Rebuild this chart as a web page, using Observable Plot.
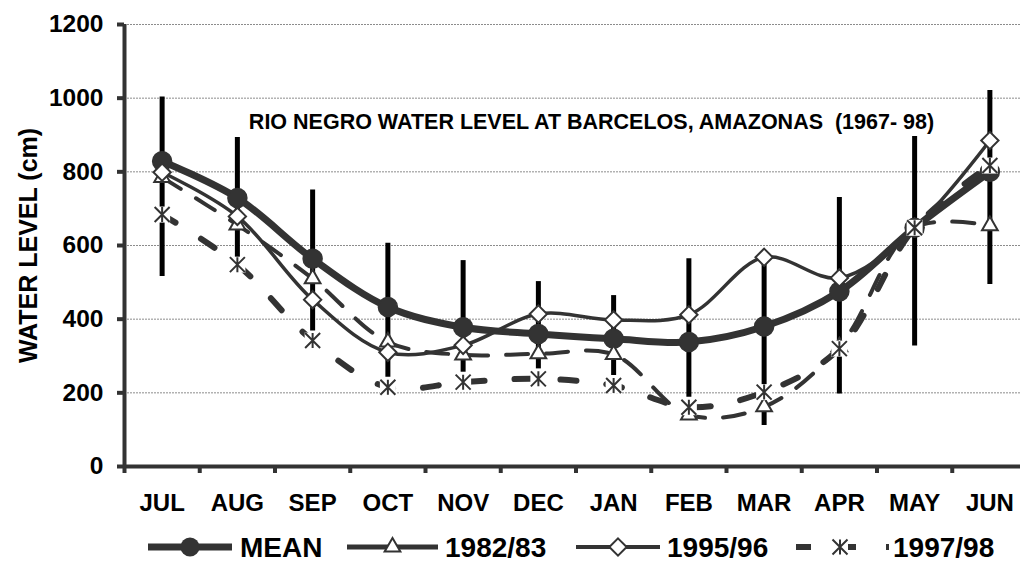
<!DOCTYPE html>
<html><head><meta charset="utf-8">
<script src="https://cdn.jsdelivr.net/npm/d3@7"></script>
<script src="https://cdn.jsdelivr.net/npm/@observablehq/plot@0.6"></script>
<style>
body{margin:0;background:#fff;font-family:"Liberation Sans",Arial,sans-serif;}
#legend{display:block;}
</style></head><body><div id="chart"></div><div id="legend"></div>
<script>
const months = ["JUL","AUG","SEP","OCT","NOV","DEC","JAN","FEB","MAR","APR","MAY","JUN"];
const meanLevel = [829, 729, 564, 433, 378, 360, 347, 338, 380, 475, 648, 800];
const errHigh   = [1003, 893, 751, 606, 559, 502, 464, 564, 560, 730, 896, 1021];
const errLow    = [516, 545, 368, 242, 256, 265, 247, 188, 111, 197, 327, 494];
const level8283 = [785, 656, 510, 338, 303, 306, 304, 140, 162, 325, 648, 654];
const level9596 = [799, 679, 453, 310, 329, 414, 398, 412, 568, 512, 648, 885];
const level9798 = [684, 548, 342, 215, 229, 238, 220, 161, 202, 320, 648, 817];
const yTicks = [0, 200, 400, 600, 800, 1000, 1200];
const seriesNames = ["MEAN", "1982/83", "1995/96", "1997/98"];
const title = "RIO NEGRO WATER LEVEL AT BARCELOS, AMAZONAS \u00a0(1967- 98)";
const yLabel = "WATER LEVEL (cm)";

const rows = months.map((m, i) => ({
  month: m, x: i + 0.5, mean: meanLevel[i], hi: errHigh[i], lo: errLow[i],
  a: level8283[i], b: level9596[i], c: level9798[i]
}));

const ink = "#333";
const font = '"Liberation Sans", Arial, sans-serif';

// Excel-like star marker: an X plus a vertical stroke inside a square box
const starSymbol = {
  draw(ctx, size) {
    const r = Math.sqrt(size / Math.PI);
    ctx.moveTo(0, -r); ctx.lineTo(0, r);
    ctx.moveTo(-r, -r); ctx.lineTo(r, r);
    ctx.moveTo(r, -r); ctx.lineTo(-r, r);
  }
};
const boxSymbol = {
  draw(ctx, size) {
    const r = Math.sqrt(size / Math.PI);
    ctx.rect(-r, -r, 2 * r, 2 * r);
  }
};

const chart = Plot.plot({
  width: 1020, height: 525,
  marginLeft: 124, marginRight: 0, marginTop: 24, marginBottom: 59,
  x: {domain: [0, 12], range: [124, 1027]},
  y: {domain: [0, 1200], range: [466, 24]},
  style: {fontFamily: font, fontWeight: "bold", color: "#000", background: "#fff"},
  marks: [
    Plot.gridY(yTicks.filter(d => d > 0), {stroke: "#8c8c8c", strokeOpacity: 1, strokeDasharray: "2,1", strokeWidth: 1}),
    Plot.ruleX(rows, {x: "x", y1: "lo", y2: "hi", stroke: "#000", strokeWidth: 5}),
    Plot.line(rows, {x: "x", y: "mean", curve: "catmull-rom", stroke: ink, strokeWidth: 7}),
    Plot.dot(rows, {x: "x", y: "mean", r: 9.5, fill: ink, stroke: ink}),
    Plot.line(rows, {x: "x", y: "a", curve: "catmull-rom", stroke: ink, strokeWidth: 4, strokeDasharray: "22,18"}),
    Plot.dot(rows, {x: "x", y: "a", symbol: "triangle2", r: 7.5, fill: "#fff", stroke: ink, strokeWidth: 2}),
    Plot.line(rows, {x: "x", y: "b", curve: "catmull-rom", stroke: ink, strokeWidth: 3.5}),
    Plot.dot(rows, {x: "x", y: "b", symbol: "diamond2", r: 7.8, fill: "#fff", stroke: ink, strokeWidth: 2}),
    Plot.line(rows, {x: "x", y: "c", curve: "catmull-rom", stroke: ink, strokeWidth: 6, strokeDasharray: "16,30"}),
    Plot.dot(rows, {x: "x", y: "c", symbol: boxSymbol, r: 8, fill: "#fff", stroke: "none"}),
    Plot.dot(rows, {x: "x", y: "c", symbol: starSymbol, r: 7.5, stroke: ink, strokeWidth: 2, fill: "none"}),
    Plot.text([title], {frameAnchor: "top", dx: 19, dy: 98, fontSize: 21.5, fontWeight: "bold", fill: "#000", lineAnchor: "middle"}),
    Plot.ruleY([0], {stroke: ink, strokeWidth: 4}),
    Plot.ruleX([0], {y1: 0, y2: 1200, stroke: ink, strokeWidth: 4}),
    Plot.axisY({ticks: yTicks, tickSize: 7, tickPadding: 14, fontSize: 24.5, stroke: ink, strokeWidth: 4, label: null, tickFormat: d => String(d)}),
    Plot.axisX({ticks: d3.range(13), tickSize: 7, tickFormat: () => "", stroke: ink, strokeWidth: 4, label: null}),
    Plot.axisX({ticks: rows.map(d => d.x), tickSize: 0, tickPadding: 27, fontSize: 24, label: null, tickFormat: d => months[Math.floor(d)]}),
    Plot.text([yLabel], {frameAnchor: "left", dx: -96, rotate: -90, textAnchor: "middle", fontSize: 25, fontWeight: "bold", fill: "#000", lineAnchor: "middle"})
  ]
});
document.getElementById("chart").appendChild(chart);

// Legend below the chart
const lg = d3.select("#legend").append("svg").attr("width", 1020).attr("height", 38)
  .style("display", "block").style("font-family", font);
const cy = 22;
const sym = (type, r) => d3.symbol(type, Math.PI * r * r)();
const items = [
  {x1: 148, x2: 232, sw: 7, dash: null, tx: 240},
  {x1: 347, x2: 438, sw: 5, dash: null, tx: 445},
  {x1: 576, x2: 660, sw: 4, dash: null, tx: 667},
  {x1: 796, x2: 889, sw: 6, dash: "15,30", tx: 893}
];
items.forEach((it, i) => {
  lg.append("line").attr("x1", it.x1).attr("x2", it.x2).attr("y1", cy).attr("y2", cy)
    .attr("stroke", ink).attr("stroke-width", it.sw).attr("stroke-dasharray", it.dash);
  const cx = i === 3 ? 840 : (it.x1 + it.x2) / 2;
  const g = lg.append("g").attr("transform", `translate(${cx},${cy})`);
  if (i === 0) g.append("circle").attr("r", 9.5).attr("fill", ink);
  if (i === 1) g.append("path").attr("d", sym(d3.symbolTriangle2, 7.5)).attr("fill", "#fff").attr("stroke", ink).attr("stroke-width", 2);
  if (i === 2) g.append("path").attr("d", sym(d3.symbolDiamond2, 7.8)).attr("fill", "#fff").attr("stroke", ink).attr("stroke-width", 2);
  if (i === 3) {
    g.append("path").attr("d", sym(boxSymbol, 8)).attr("fill", "#fff");
    g.append("path").attr("d", sym(starSymbol, 7.5)).attr("fill", "none").attr("stroke", ink).attr("stroke-width", 2);
  }
  lg.append("text").attr("x", it.tx).attr("y", cy).attr("dy", "0.36em")
    .attr("font-size", 28).attr("font-weight", "bold").attr("fill", "#000").text(seriesNames[i]);
});
</script></body></html>
